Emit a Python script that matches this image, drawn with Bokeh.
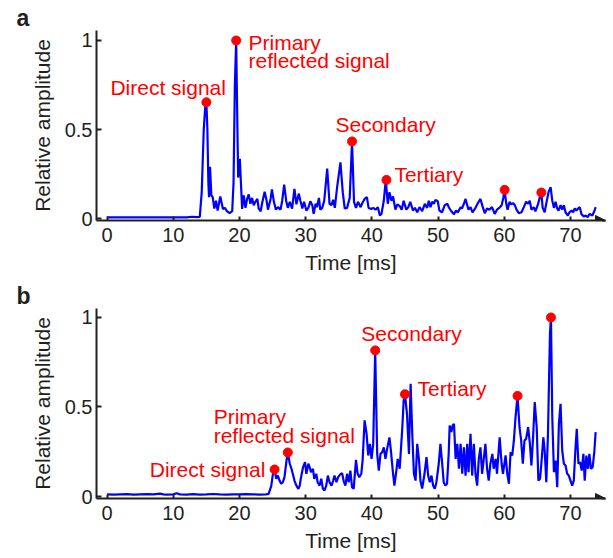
from bokeh.plotting import figure
from bokeh.models import Range1d, FixedTicker, Label, Arrow, NormalHead
from bokeh.layouts import column
from bokeh.embed import file_html
from bokeh.resources import INLINE

# ---------------- data ----------------
time_a = [0, 1, 2, 3, 4, 5, 6, 7, 8, 9, 10, 11, 12, 12.8, 13.5, 14.0, 14.3, 14.6, 14.85, 15.0,
          15.15, 15.3, 15.4, 15.55, 15.75, 15.95, 16.2, 16.45, 16.7, 17.1, 17.5, 17.8, 18.1, 18.5,
          18.9, 19.1, 19.3, 19.5, 19.65, 19.8, 20.05, 20.4, 20.65, 20.9, 21.15, 21.4, 21.65, 21.9,
          22.15, 22.4, 22.7, 22.9, 23.2, 23.4, 23.8, 24.1, 24.3, 24.7, 24.9, 25.2, 25.5, 25.8,
          26.2, 26.45, 26.75, 27.05, 27.3, 27.6, 27.95, 28.3, 28.6, 28.95, 29.2, 29.5, 29.75,
          30.1, 30.4, 30.7, 31.0, 31.2, 31.5, 31.7, 32.0, 32.2, 32.5, 32.8, 33.25, 33.6, 33.9,
          34.15, 34.4, 34.75, 35.25, 35.6, 35.9, 36.25, 36.65, 37.0, 37.3, 37.6, 37.9, 38.3,
          38.5, 38.9, 39.25, 39.5, 39.9, 40.2, 40.55, 40.9, 41.2, 41.45, 41.8, 42.1, 42.4, 42.65,
          42.95, 43.2, 43.55, 43.85, 44.2, 44.5, 44.8, 45.2, 45.5, 45.8, 46.2, 46.5, 46.85, 47.2,
          47.6, 48.0, 48.35, 48.6, 48.85, 49.1, 49.35, 49.6, 49.95, 50.2, 50.6, 51.0, 51.4, 51.6,
          52.0, 52.4, 52.7, 53.0, 53.4, 53.6, 53.9, 54.15, 54.4, 54.6, 54.9, 55.2, 55.65, 56.0,
          56.4, 56.75, 57.05, 57.4, 57.75, 58.15, 58.55, 58.9, 59.3, 59.6, 59.85, 60.05, 60.3,
          60.5, 60.8, 61.0, 61.35, 61.6, 61.85, 62.2, 62.6, 62.95, 63.3, 63.6, 63.85, 64.1, 64.45,
          64.7, 65.05, 65.35, 65.6, 65.8, 66.1, 66.35, 66.7, 67.0, 67.25, 67.5, 67.75, 68.0, 68.2,
          68.5, 68.75, 69.0, 69.25, 69.6, 69.85, 70.15, 70.4, 70.65, 70.9, 71.15, 71.4, 71.65,
          72.0, 72.3, 72.6, 72.9, 73.3, 73.6, 73.8]
amp_a = [0.007, 0.007, 0.006, 0.007, 0.007, 0.006, 0.007, 0.007, 0.006, 0.007, 0.007, 0.006, 0.007,
         0.010, 0.008, 0.009, 0.15, 0.5, 0.64, 0.653, 0.5, 0.2, 0.12, 0.29, 0.13, 0.12, 0.056, 0.10,
         0.045, 0.124, 0.054, 0.06, 0.041, 0.03, 0.041, 0.2, 0.75, 1.0, 0.6, 0.23, 0.335, 0.054,
         0.13, 0.06, 0.11, 0.135, 0.083, 0.116, 0.075, 0.094, 0.11, 0.056, 0.041, 0.083, 0.15,
         0.10, 0.05, 0.11, 0.163, 0.094, 0.05, 0.064, 0.05, 0.10, 0.19, 0.10, 0.06, 0.094, 0.056,
         0.167, 0.08, 0.14, 0.10, 0.056, 0.094, 0.045, 0.06, 0.097, 0.075, 0.026, 0.083, 0.064,
         0.116, 0.05, 0.06, 0.10, 0.28, 0.083, 0.075, 0.105, 0.06, 0.176, 0.316, 0.148, 0.056,
         0.06, 0.116, 0.433, 0.094, 0.06, 0.094, 0.064, 0.083, 0.11, 0.12, 0.06, 0.054, 0.06,
         0.05, 0.064, 0.017, 0.026, 0.10, 0.217, 0.083, 0.148, 0.10, 0.124, 0.05, 0.08, 0.07,
         0.05, 0.10, 0.05, 0.064, 0.094, 0.045, 0.06, 0.035, 0.064, 0.041, 0.083, 0.06, 0.10,
         0.064, 0.094, 0.083, 0.105, 0.097, 0.045, 0.035, 0.075, 0.083, 0.064, 0.041, 0.024,
         0.045, 0.035, 0.064, 0.056, 0.083, 0.11, 0.075, 0.05, 0.064, 0.035, 0.06, 0.086, 0.11,
         0.064, 0.03, 0.056, 0.05, 0.064, 0.026, 0.05, 0.062, 0.075, 0.116, 0.161, 0.083, 0.05,
         0.094, 0.08, 0.086, 0.075, 0.05, 0.03, 0.035, 0.064, 0.094, 0.083, 0.10, 0.05, 0.064,
         0.041, 0.075, 0.116, 0.146, 0.06, 0.035, 0.086, 0.15, 0.176, 0.10, 0.06, 0.094, 0.056,
         0.045, 0.075, 0.05, 0.075, 0.035, 0.017, 0.035, 0.045, 0.035, 0.056, 0.045, 0.056,
         0.064, 0.026, 0.011, 0.017, 0.008, 0.026, 0.017, 0.041, 0.064]

time_b = [0, 1, 2, 3, 4, 5, 6, 7, 8, 8.5, 9, 10, 10.5, 11, 12, 13, 14, 15, 16, 17, 18, 19, 20, 21,
          22, 23, 24, 24.4, 24.8, 25.05, 25.3, 25.55, 25.8, 26.05, 26.3, 26.55, 26.8, 27.1, 27.3,
          27.6, 27.85, 28.05, 28.3, 28.6, 28.9, 29.1, 29.3, 29.6, 29.9, 30.1, 30.4, 30.6, 30.8,
          31.1, 31.3, 31.6, 31.8, 32.1, 32.35, 32.6, 32.85, 33.1, 33.35, 33.6, 33.9, 34.15, 34.35,
          34.65, 34.9, 35.25, 35.5, 35.75, 36.0, 36.25, 36.5, 36.75, 37.0, 37.25, 37.6, 37.85,
          38.1, 38.4, 38.6, 38.9, 39.2, 39.45, 39.7, 39.95, 40.2, 40.5, 40.8, 41.05, 41.3, 41.55,
          41.8, 42.05, 42.3, 42.65, 42.9, 43.15, 43.4, 43.7, 43.9, 44.2, 44.6, 44.8, 45.0, 45.3,
          45.6, 45.85, 46.1, 46.35, 46.6, 46.85, 47.1, 47.35, 47.6, 47.95, 48.25, 48.5, 48.75,
          49.0, 49.25, 49.5, 49.75, 50.1, 50.35, 50.6, 50.85, 51.1, 51.35, 51.6, 51.75, 52.0,
          52.2, 52.4, 52.65, 52.9, 53.15, 53.4, 53.65, 53.9, 54.15, 54.4, 54.6, 54.9, 55.15,
          55.4, 55.65, 55.9, 56.15, 56.4, 56.65, 56.9, 57.15, 57.4, 57.65, 57.9, 58.2, 58.4,
          58.7, 58.9, 59.3, 59.6, 59.8, 60.2, 60.45, 60.7, 60.95, 61.2, 61.45, 61.7, 62.0, 62.3,
          62.55, 62.8, 63.05, 63.3, 63.6, 63.85, 64.1, 64.35, 64.6, 64.9, 65.15, 65.4, 65.6,
          65.9, 66.1, 66.35, 66.6, 66.9, 67.05, 67.25, 67.5, 67.75, 68.0, 68.25, 68.5, 68.75,
          69.0, 69.25, 69.5, 69.75, 70.0, 70.25, 70.5, 70.75, 70.95, 71.2, 71.45, 71.7, 71.95,
          72.15, 72.4, 72.65, 72.85, 73.1, 73.35, 73.6, 73.8]
amp_b = [0.012, 0.011, 0.012, 0.013, 0.011, 0.012, 0.013, 0.012, 0.016, 0.012, 0.011, 0.012, 0.018,
         0.012, 0.011, 0.013, 0.011, 0.012, 0.014, 0.012, 0.011, 0.012, 0.012, 0.013, 0.012,
         0.011, 0.012, 0.015, 0.06, 0.127, 0.151, 0.099, 0.117, 0.089, 0.071, 0.08, 0.108, 0.2,
         0.246, 0.183, 0.155, 0.127, 0.089, 0.061, 0.043, 0.061, 0.108, 0.164, 0.192, 0.127,
         0.183, 0.164, 0.136, 0.155, 0.099, 0.127, 0.08, 0.061, 0.099, 0.043, 0.034, 0.061,
         0.117, 0.08, 0.061, 0.089, 0.117, 0.08, 0.108, 0.125, 0.13, 0.085, 0.061, 0.127, 0.08,
         0.145, 0.052, 0.043, 0.205, 0.127, 0.108, 0.127, 0.201, 0.425, 0.35, 0.229, 0.294, 0.21,
         0.294, 0.816, 0.238, 0.145, 0.238, 0.247, 0.275, 0.21, 0.266, 0.33, 0.247, 0.145, 0.061,
         0.145, 0.21, 0.155, 0.387, 0.536, 0.571, 0.462, 0.238, 0.63, 0.35, 0.127, 0.089, 0.294,
         0.21, 0.085, 0.045, 0.127, 0.22, 0.117, 0.08, 0.117, 0.061, 0.043, 0.08, 0.183, 0.294,
         0.192, 0.08, 0.061, 0.071, 0.238, 0.397, 0.36, 0.397, 0.406, 0.21, 0.294, 0.155, 0.294,
         0.127, 0.275, 0.117, 0.294, 0.136, 0.35, 0.117, 0.294, 0.127, 0.061, 0.21, 0.275, 0.127,
         0.21, 0.294, 0.155, 0.089, 0.183, 0.238, 0.155, 0.21, 0.127, 0.33, 0.183, 0.127, 0.23,
         0.127, 0.071, 0.247, 0.229, 0.313, 0.443, 0.562, 0.387, 0.313, 0.183, 0.313, 0.322,
         0.387, 0.303, 0.173, 0.33, 0.527, 0.387, 0.089, 0.099, 0.183, 0.33, 0.257, 0.08, 0.35,
         0.909, 1.0, 0.443, 0.136, 0.201, 0.052, 0.406, 0.518, 0.257, 0.183, 0.173, 0.127, 0.117,
         0.089, 0.061, 0.089, 0.266, 0.378, 0.183, 0.192, 0.145, 0.238, 0.089, 0.229, 0.155,
         0.238, 0.155, 0.164, 0.25, 0.36]

peak_time_a = [15.0, 19.5, 37.0, 42.2, 60.05, 65.6]
peak_amp_a = [0.653, 1.0, 0.433, 0.217, 0.161, 0.146]
peak_time_b = [25.3, 27.3, 40.5, 45.0, 62.0, 67.05]
peak_amp_b = [0.151, 0.246, 0.816, 0.571, 0.562, 1.0]

x_ticks = [0, 10, 20, 30, 40, 50, 60, 70]
y_ticks = [0, 0.5, 1]
y_tick_labels = {0: "0", 0.5: "0.5", 1: "1"}

# ---------------- style ----------------
FONT = "Liberation Sans"
INK = "#231f20"
RED = "#ff0000"
BLUE = "#0000ff"
XR = (-1.6, 75.29)
Y0 = -0.011


def make_panel(height, top, bottom, y_end, t, amp, pt, pa, texts, letter):
    p = figure(width=612, height=height, output_backend="svg", toolbar_location=None,
               x_range=Range1d(*XR), y_range=Range1d(Y0, y_end),
               min_border_left=96, min_border_right=7, min_border_top=top,
               min_border_bottom=bottom)
    p.outline_line_color = None
    p.grid.visible = False
    p.background_fill_color = "white"
    p.border_fill_color = "white"

    p.title.text = letter
    p.title.align = "left"
    p.title.offset = -80
    p.title.standoff = 0
    p.title.text_font = FONT
    p.title.text_font_size = "23px"
    p.title.text_font_style = "bold"
    p.title.text_color = INK

    for ax in (p.xaxis[0], p.yaxis[0]):
        ax.axis_line_width = 2
        ax.axis_line_color = INK
        ax.major_tick_line_width = 2
        ax.major_tick_line_color = INK
        ax.major_tick_in = 5
        ax.major_tick_out = 0
        ax.minor_tick_line_color = None
        ax.major_label_text_font = FONT
        ax.major_label_text_font_size = "20px"
        ax.major_label_text_color = INK
        ax.axis_label_text_font = FONT
        ax.axis_label_text_font_size = "21px"
        ax.axis_label_text_font_style = "normal"
        ax.axis_label_text_color = INK
    p.xaxis[0].ticker = FixedTicker(ticks=x_ticks)
    p.xaxis[0].major_label_standoff = 7
    p.xaxis[0].major_tick_in = 4
    p.xaxis[0].axis_label = "Time [ms]"
    p.xaxis[0].axis_label_standoff = 6
    p.yaxis[0].ticker = FixedTicker(ticks=y_ticks)
    p.yaxis[0].major_label_overrides = y_tick_labels
    p.yaxis[0].major_label_standoff = 4
    p.yaxis[0].axis_label = "Relative amplitude"
    p.yaxis[0].axis_label_standoff = 8

    p.line(t, amp, line_color=BLUE, line_width=2.2)
    p.scatter(pt, pa, size=9, fill_color=RED, line_color=RED)

    for (txt, x, y, align) in texts:
        p.add_layout(Label(x=x, y=y, text=txt, text_font=FONT, text_font_size="21px",
                           text_color=RED, text_align=align, text_baseline="alphabetic"))

    p.add_layout(Arrow(end=NormalHead(size=10, fill_color=INK, line_color=INK, line_width=1),
                       x_start=XR[1] - 0.5, y_start=Y0, x_end=XR[1], y_end=Y0,
                       line_color=INK, line_width=2))
    return p


texts_a = [("Direct signal", 0.5, 0.738, "left"),
           ("Primary", 21.36, 0.99, "left"),
           ("reflected signal", 21.36, 0.887, "left"),
           ("Secondary", 34.5, 0.527, "left"),
           ("Tertiary", 43.4, 0.25, "left")]
texts_b = [("Direct signal", 23.9, 0.152, "right"),
           ("Primary", 16.1, 0.447, "left"),
           ("reflected signal", 16.1, 0.341, "left"),
           ("Secondary", 38.4, 0.913, "left"),
           ("Tertiary", 46.9, 0.603, "left")]

p1 = make_panel(280, 30, 60, 1.056, time_a, amp_a, peak_time_a, peak_amp_a, texts_a, "a")
p2 = make_panel(277, 28, 59, 1.05, time_b, amp_b, peak_time_b, peak_amp_b, texts_b, "b")

layout = column(p1, p2, spacing=0)
open("out.html", "w").write(file_html(layout, INLINE))
